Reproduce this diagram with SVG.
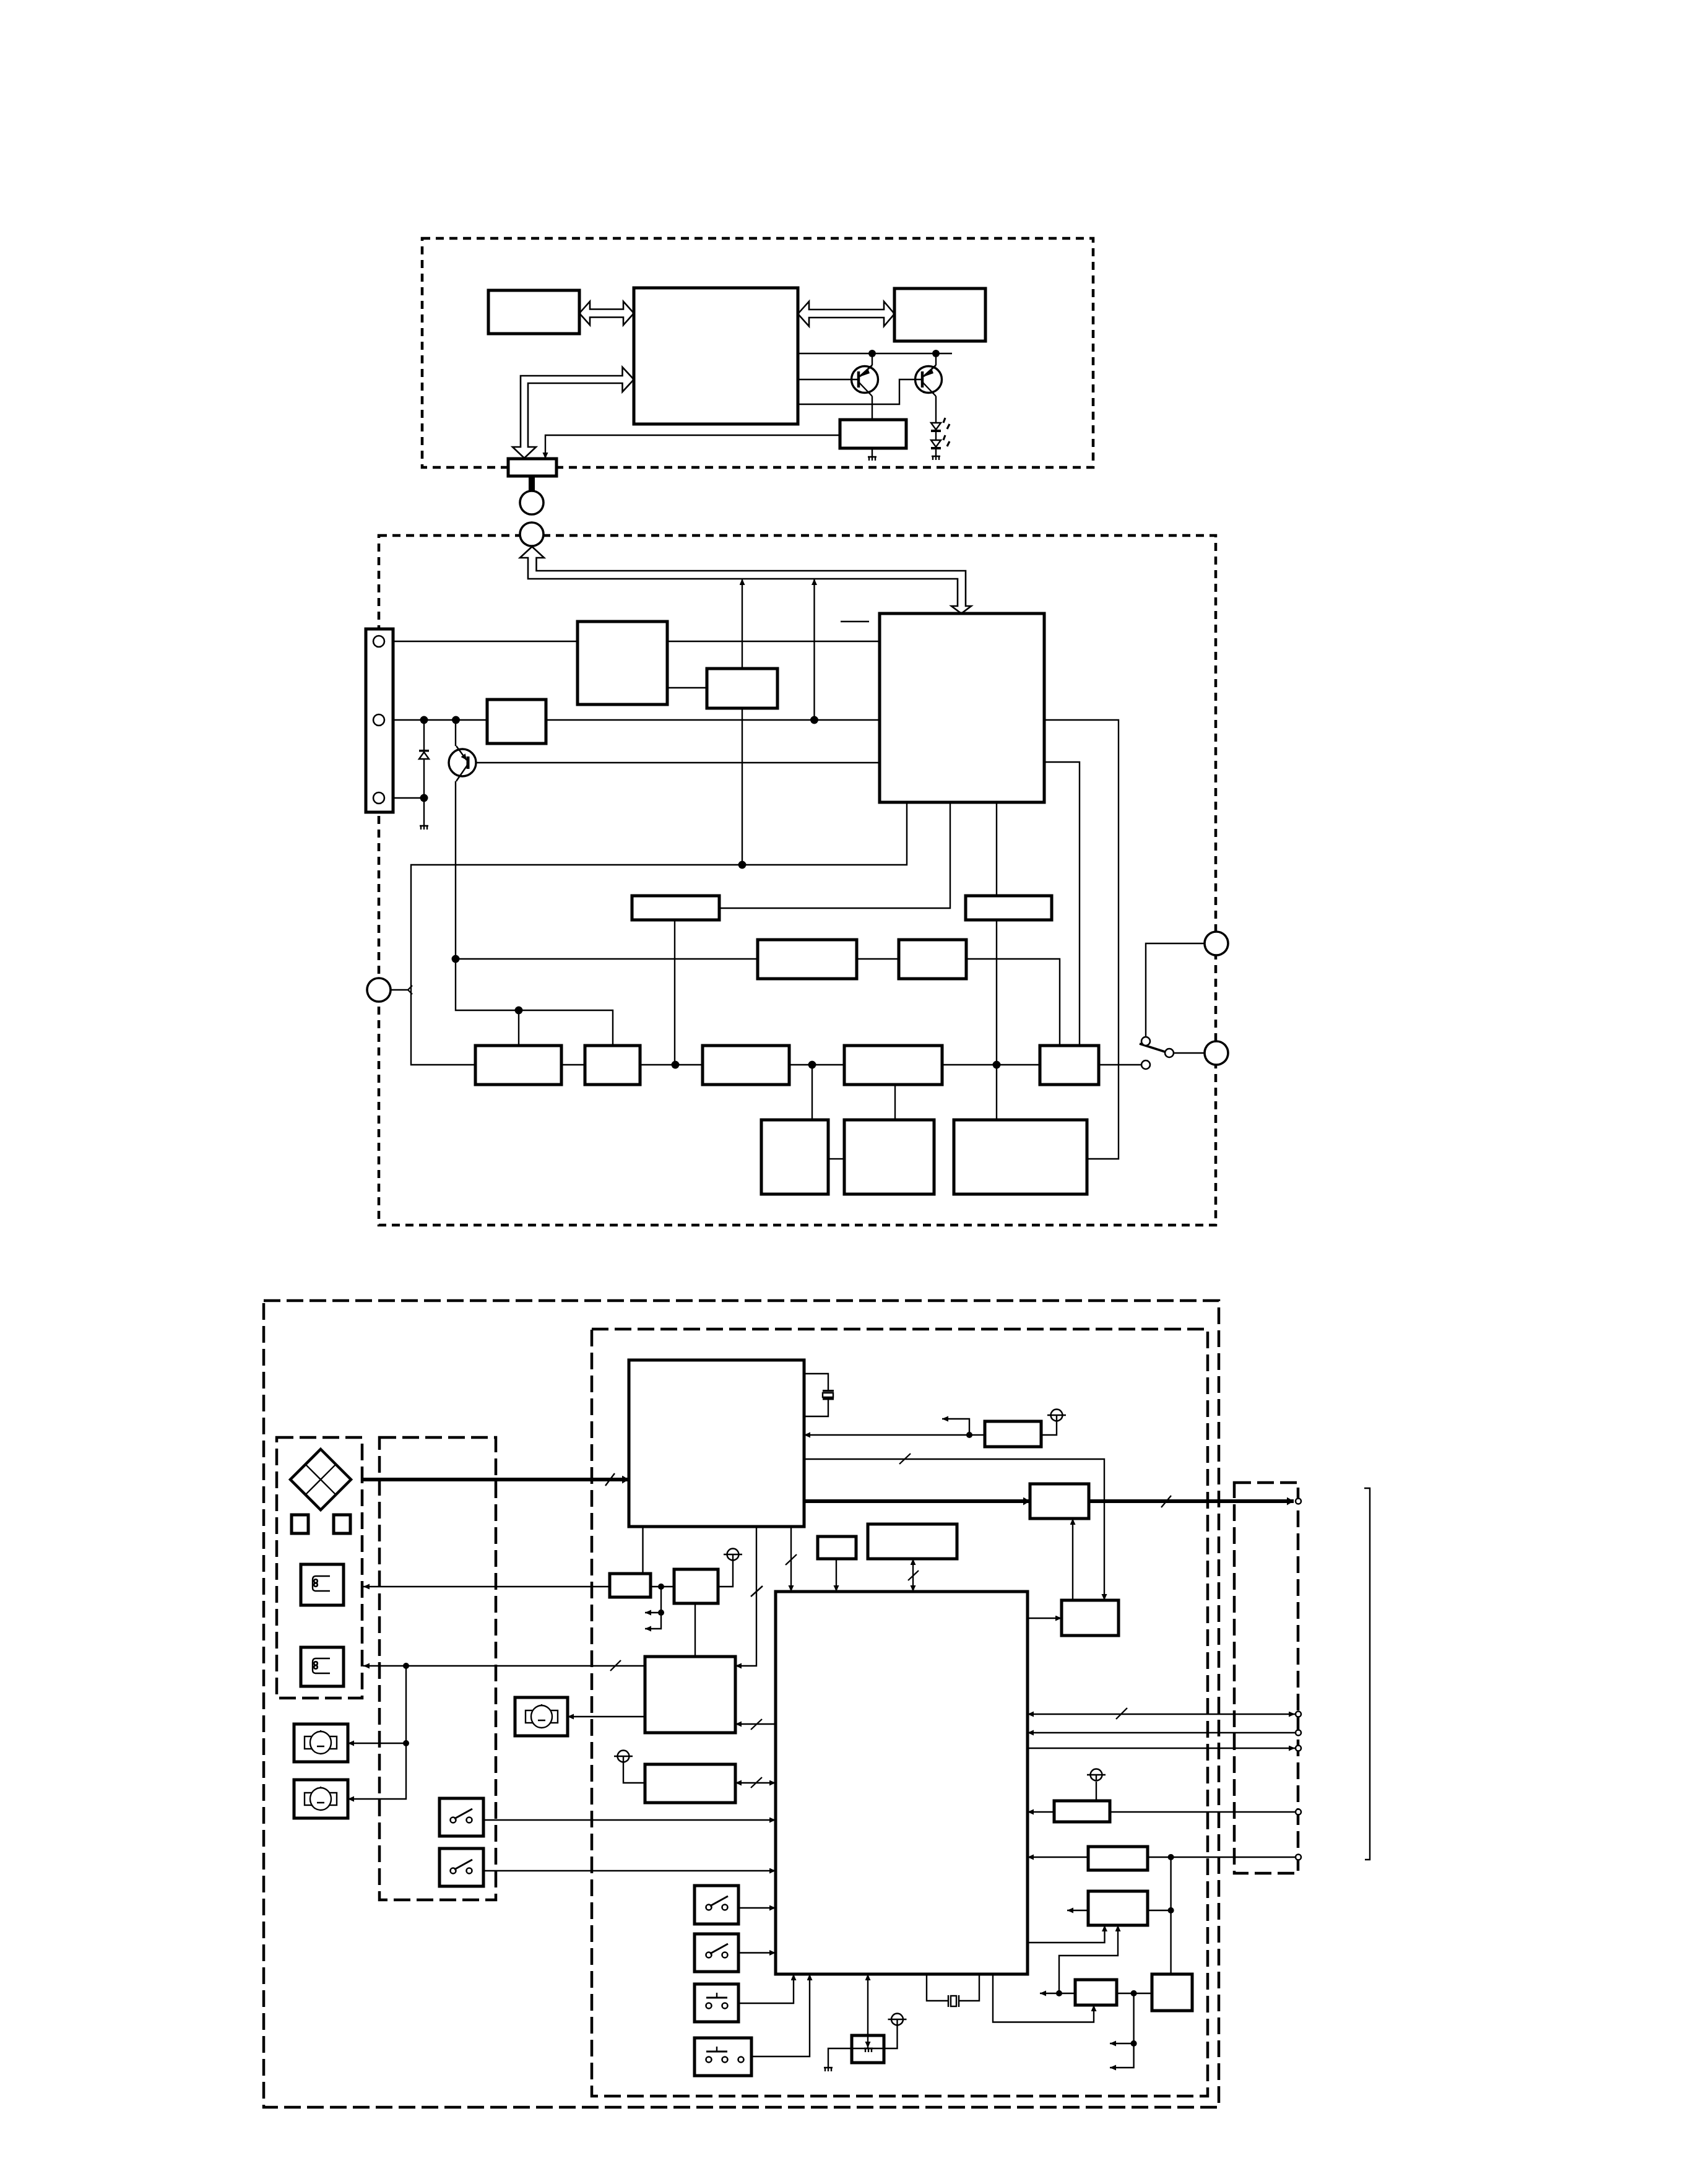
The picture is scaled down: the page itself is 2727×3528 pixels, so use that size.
<svg xmlns="http://www.w3.org/2000/svg" width="2727" height="3528" viewBox="0 0 2727 3528">
<style>
rect,circle,ellipse,path,line,polyline,polygon{stroke:#000}
.box{fill:#fff;stroke-width:5}
.dash1{fill:none;stroke-width:4.5;stroke-dasharray:13 9}
.dash2{fill:none;stroke-width:4.5;stroke-dasharray:27 10}
.c{fill:none;stroke-width:2.4}
.t{fill:none;stroke-width:6}
.bus{fill:#fff;stroke-width:2.6}
.dot{fill:#000;stroke:none}
.ring{fill:#fff;stroke-width:3.6}
.pin{fill:#fff;stroke-width:2.6}
.s{fill:none;stroke-width:2.4}
.sf{fill:#fff;stroke-width:2.4}
.a{marker-end:url(#a)}
.as{marker-start:url(#a)}
.b{marker-end:url(#b)}
</style>
<defs>
<marker id="a" markerUnits="userSpaceOnUse" markerWidth="11" markerHeight="10" refX="10" refY="4.5" orient="auto-start-reverse"><path d="M0,0L10,4.5L0,9z" style="fill:#000;stroke:none"/></marker>
<marker id="b" markerUnits="userSpaceOnUse" markerWidth="12" markerHeight="14" refX="11" refY="6.5" orient="auto-start-reverse"><path d="M0,0L11,6.5L0,13z" style="fill:#000;stroke:none"/></marker>
<g id="gnd"><path class="s" d="M-7,0H7M-5,0V6M0,0V6M5,0V6"/></g>
<g id="vcc"><ellipse class="sf" rx="9.5" ry="9.5"/><path class="s" d="M-15,0H15M0,0V10"/></g>
<g id="motor"><rect class="sf" x="-26" y="-10" width="52" height="20"/><ellipse class="sf" rx="17" ry="18"/><path class="s" d="M-6,6H6M0,-18V-20"/></g>
<g id="swo"><circle class="pin" cx="-13" cy="4" r="4.5"/><circle class="pin" cx="13" cy="4" r="4.5"/><path class="s" style="stroke-width:3" d="M-11,2L18,-14"/></g>
<g id="push"><circle class="pin" cx="-13" cy="4" r="4.5"/><circle class="pin" cx="13" cy="4" r="4.5"/><path class="s" d="M-17,-9H17" style="stroke-width:3"/><path class="s" d="M0,-9V-17"/></g>
<g id="coil"><path class="s" d="M13,-14H-10Q-15,-14 -15,-8V5Q-15,10 -10,10H13"/><circle class="pin" cx="-10" cy="-6" r="2.8"/><circle class="pin" cx="-10" cy="0" r="2.8"/></g>
<g id="led"><polygon class="sf" points="-8,0 8,0 0,11"/><rect x="-8" y="11" width="16" height="4" style="fill:#000;stroke:none"/><path class="s" style="stroke-width:3.2" d="M12,0L15,-8M18,10L22,2"/></g>
</defs>

<g id="containers">
<rect class="dash1" x="682" y="385" width="1084" height="370"/>
<rect class="dash1" x="612" y="865" width="1352" height="1114"/>
<rect class="dash2" x="426" y="2101" width="1543" height="1303"/>
<rect class="dash2" x="956" y="2147" width="995" height="1239"/>
<rect class="dash2" x="447" y="2322" width="138" height="421"/>
<rect class="dash2" x="613" y="2322" width="188" height="747"/>
<rect class="dash2" x="1994" y="2395" width="103" height="631"/>
</g>

<g id="connectors">
<polygon class="bus" points="936,506 953,487 953,499.5 1007,499.5 1007,487 1024,506 1007,525 1007,512.5 953,512.5 953,525"/>
<polygon class="bus" points="1289,507 1307,487 1307,500 1428,500 1428,487 1445,507 1428,527 1428,513 1307,513 1307,527"/>
<polygon class="bus" points="1024,613 1005.5,593 1005.5,607 841,607 841,722 828,722 847,740 866,722 853,722 853,619 1005.5,619 1005.5,633"/>
<path class="c" d="M1289,571H1538"/>
<path class="c" d="M1409,571V590M1409,640V678"/>
<path class="c" d="M1512,571V590M1512,640V683M1512,698V711M1512,726V737"/>
<path class="c" d="M1289,613H1387"/>
<path class="c" d="M1289,653H1453V613H1490"/>
<path class="c a" d="M1357,703H881V741"/>
<path class="c" d="M1409,724V738"/>
<path d="M859,769V793" style="fill:none;stroke-width:10"/>
<polygon class="bus" points="859.5,883 840,901 853,901 853,935 1547,935 1547,979 1537,979 1553,991 1569,979 1560,979 1560,922 866.5,922 866.5,901 879,901"/>
<path class="c a" d="M1199,1080V935"/>
<path class="c" d="M1199,1144V1397"/>
<path class="c a" d="M1315.5,1163V935"/>
<path class="c" d="M1358,1004H1404"/>
<path class="c" d="M622,1036H933M1078,1036H1421"/>
<path class="c" d="M622,1163H787M882,1163H1421"/>
<path class="c" d="M622,1289H685"/>
<path class="c" d="M685,1163V1334"/>
<path class="c" d="M1078,1111H1142"/>
<path class="c" d="M756,1232H1421"/>
<path class="c" d="M736,1163V1205M736,1262V1632H990V1689"/>
<path class="c" d="M838,1632V1689"/>
<path class="c" d="M736,1549H1224M1384,1549H1452M1561,1549H1712V1688"/>
<path class="c" d="M1465,1296V1397H664V1720H768"/>
<path class="c" d="M632,1599H659M659,1599L666,1592M659,1599L666,1606"/>
<path class="c" d="M1535,1296V1467H1162"/>
<path class="c" d="M1090,1486V1720"/>
<path class="c" d="M907,1720H945M1034,1720H1135M1275,1720H1364M1522,1720H1680"/>
<path class="c" d="M1312,1720V1809"/>
<path class="c" d="M1446,1752V1809"/>
<path class="c" d="M1338,1872H1364"/>
<path class="c" d="M1610,1296V1809"/>
<path class="c" d="M1775,1720H1844"/>
<path class="c" d="M1687,1163H1807V1872H1756"/>
<path class="c" d="M1687,1231H1744V1689"/>
<path class="c" d="M1851,1675V1524H1945"/>
<path class="c" d="M1896,1701H1945"/>
<path d="M1841,1686L1885,1700" style="fill:none;stroke-width:3.5"/>
<path class="t b" d="M585,2390H1016"/>
<path class="t b" d="M1299,2425H1664"/>
<path class="t b" d="M1759,2425H2090"/>
<path class="s" d="M978,2400L993,2380M1876,2435L1892,2416"/>
<path class="c" d="M1299,2219H1338V2245M1338,2261V2288H1299"/>
<path class="c a" d="M1566,2318H1299"/>
<path class="c" d="M1566,2318H1591"/>
<path class="c a" d="M1566,2318V2292H1522"/>
<path class="c" d="M1682,2318H1707V2296"/>
<path class="c a" d="M1299,2357H1784V2585"/>
<path class="s" d="M1453,2365L1471,2348"/>
<path class="c a" d="M1733,2585V2453"/>
<path class="c a" d="M1351,2518V2571"/>
<path class="c a as" d="M1475,2518V2571"/>
<path class="s" d="M1467,2553L1484,2537"/>
<path class="c a" d="M1660,2614H1715"/>
<path class="c" d="M1038.5,2466V2542"/>
<path class="c a" d="M985,2563H587"/>
<path class="c" d="M1051,2563H1089"/>
<path class="c a" d="M1068,2563V2605H1042"/>
<path class="c a" d="M1068,2605V2631H1042"/>
<path class="c" d="M1160,2563H1184V2521"/>
<path class="c" d="M1123,2590V2676"/>
<path class="c a" d="M1042,2691H587"/>
<path class="s" d="M986,2699L1003,2682"/>
<path class="c a" d="M1222,2466V2691H1188"/>
<path class="s" d="M1213,2579L1232,2562"/>
<path class="c a" d="M1278,2466V2571"/>
<path class="s" d="M1269,2528L1287,2511"/>
<path class="c a" d="M656,2691V2816H562"/>
<path class="c a" d="M656,2816V2906H562"/>
<path class="c a" d="M1042,2773H917"/>
<path class="c a" d="M1253,2785H1188"/>
<path class="s" d="M1213,2794L1231,2777"/>
<path class="c a as" d="M1188,2880H1253"/>
<path class="s" d="M1213,2888L1231,2871"/>
<path class="c" d="M1007,2847V2880H1042"/>
<path class="c a" d="M781,2940H1253"/>
<path class="c a" d="M781,3022H1253"/>
<path class="c a" d="M1193,3082H1253"/>
<path class="c a" d="M1193,3154.5H1253"/>
<path class="c a" d="M1193,3236H1282V3189"/>
<path class="c a" d="M1213.6,3322H1308V3189"/>
<path class="c a as" d="M1402,3189V3308"/>
<path class="c" d="M1338,3340V3309H1449.5V3272"/>
<path class="c" d="M1497,3189V3232H1532M1549,3232H1582V3189"/>
<path class="c a" d="M1604,3189V3266.5H1767V3239"/>
<path class="c a" d="M1737,3220H1680"/>
<path class="c a" d="M1711,3220V3159H1806V3110"/>
<path class="c a" d="M1660,3138H1784.5V3110"/>
<path class="c a" d="M1758,3086H1724"/>
<path class="c" d="M1854,3086H1891.6"/>
<path class="c" d="M1891.6,3000V3188"/>
<path class="c a" d="M1758,3000H1660"/>
<path class="c" d="M1854,3000H2092"/>
<path class="c a" d="M1703,2927H1660"/>
<path class="c" d="M1793,2927H2092"/>
<path class="c" d="M1771,2909V2878"/>
<path class="c a as" d="M1660,2769H2092"/>
<path class="s" d="M1803,2777L1821,2759"/>
<path class="c as" d="M1660,2799H2092"/>
<path class="c a" d="M1660,2824H2092"/>
<path class="c" d="M1804,3220H1861"/>
<path class="c a" d="M1831.6,3220V3301H1793"/>
<path class="c a" d="M1831.6,3301V3340H1793"/>
<path class="c" d="M2204,2404H2213V3004H2205"/>
</g>

<g id="upper-nodes">
<g id="n1"><rect class="box" x="789" y="469" width="147" height="70"/></g>
<g id="n2"><rect class="box" x="1024" y="465" width="265" height="220"/></g>
<g id="n3"><rect class="box" x="1445" y="466" width="147" height="85"/></g>
<g id="n4"><rect class="box" x="1357" y="678" width="107" height="46"/></g>
<g id="conn1"><rect class="box" x="821" y="741" width="78" height="28"/></g>
<g id="plug1"><circle class="ring" cx="859" cy="812" r="19"/></g>
<g id="plug2"><circle class="ring" cx="859" cy="863" r="19"/></g>
<g id="q1"><circle cx="1397" cy="613" r="21.5" fill="none" stroke-width="3.4"/><path class="s" d="M1387,600V626" style="stroke-width:4.5"/><path class="s" d="M1389,608L1409,590" style="stroke-width:3"/><polygon points="1388,609 1402,595 1405,603" style="fill:#000;stroke:none"/><path class="s" d="M1387,617L1409,640"/></g>
<g id="q2"><circle cx="1500" cy="613" r="21.5" fill="none" stroke-width="3.4"/><path class="s" d="M1490,600V626" style="stroke-width:4.5"/><path class="s" d="M1492,608L1512,590" style="stroke-width:3"/><polygon points="1491,609 1505,595 1508,603" style="fill:#000;stroke:none"/><path class="s" d="M1490,617L1512,640"/></g>
<g id="led1"><use href="#led" x="1512" y="683"/></g>
<g id="led2"><use href="#led" x="1512" y="711"/></g>
<use href="#gnd" x="1409" y="738"/>
<use href="#gnd" x="1512" y="737"/>
<circle class="dot" cx="1409" cy="571" r="6"/>
<circle class="dot" cx="1512" cy="571" r="6"/>
</g>

<g id="middle-nodes">
<g id="terminal"><rect class="box" x="591" y="1016" width="44" height="296"/><circle class="pin" cx="612" cy="1036" r="9"/><circle class="pin" cx="612" cy="1163" r="9"/><circle class="pin" cx="612" cy="1289" r="9"/></g>
<g id="m1"><rect class="box" x="933" y="1004" width="145" height="134"/></g>
<g id="m2"><rect class="box" x="1142" y="1080" width="114" height="64"/></g>
<g id="m3"><rect class="box" x="787" y="1130" width="95" height="71"/></g>
<g id="m4"><rect class="box" x="1421" y="991" width="266" height="305"/></g>
<g id="m5"><rect class="box" x="1021" y="1447" width="141" height="39"/></g>
<g id="m6"><rect class="box" x="1560" y="1447" width="139" height="39"/></g>
<g id="m7"><rect class="box" x="1224" y="1518" width="160" height="63"/></g>
<g id="m8"><rect class="box" x="1452" y="1518" width="109" height="63"/></g>
<g id="m9"><rect class="box" x="768" y="1689" width="139" height="63"/></g>
<g id="m10"><rect class="box" x="945" y="1689" width="89" height="63"/></g>
<g id="m11"><rect class="box" x="1135" y="1689" width="140" height="63"/></g>
<g id="m12"><rect class="box" x="1364" y="1689" width="158" height="63"/></g>
<g id="m13"><rect class="box" x="1680" y="1689" width="95" height="63"/></g>
<g id="m14"><rect class="box" x="1230" y="1809" width="108" height="120"/></g>
<g id="m15"><rect class="box" x="1364" y="1809" width="145" height="120"/></g>
<g id="m16"><rect class="box" x="1541" y="1809" width="215" height="120"/></g>
<g id="zener"><rect x="677" y="1211" width="16" height="3.5" style="fill:#000;stroke:none"/><polygon class="sf" points="685,1215 677,1226 693,1226"/></g>
<use href="#gnd" x="685" y="1334"/>
<g id="q3"><circle cx="747" cy="1232" r="22" fill="#fff" stroke-width="3.4"/><path class="s" d="M756,1222V1242" style="stroke-width:5"/><path class="s a" d="M737,1205L754,1228"/><path class="s" d="M755,1236L737,1262"/></g>
<circle class="ring" cx="612" cy="1599" r="19"/>
<circle class="ring" cx="1965" cy="1524" r="19"/>
<circle class="ring" cx="1965" cy="1701" r="19"/>
<circle class="pin" cx="1851" cy="1720" r="7"/>
<circle class="pin" cx="1851" cy="1682" r="7"/>
<circle class="pin" cx="1889" cy="1701" r="7"/>
<circle class="dot" cx="685" cy="1163" r="6.5"/><circle class="dot" cx="736.5" cy="1163" r="6.5"/><circle class="dot" cx="1315.5" cy="1163" r="6.5"/>
<circle class="dot" cx="685" cy="1289" r="6.5"/><circle class="dot" cx="1199" cy="1397" r="6.5"/>
<circle class="dot" cx="736" cy="1549" r="6.5"/><circle class="dot" cx="838" cy="1632" r="6.5"/>
<circle class="dot" cx="1091" cy="1720" r="6.5"/><circle class="dot" cx="1312" cy="1720" r="6.5"/><circle class="dot" cx="1610" cy="1720" r="6.5"/>
</g>

<g id="lower-nodes">
<g id="l1"><rect class="box" x="1016" y="2197" width="283" height="269"/></g>
<g id="xtal1"><rect x="1329" y="2245" width="18" height="3.5" style="fill:#000;stroke:none"/><rect x="1329" y="2258" width="18" height="3.5" style="fill:#000;stroke:none"/><rect class="sf" x="1329" y="2250" width="17" height="7"/></g>
<g id="l2"><rect class="box" x="1591" y="2296" width="91" height="41"/></g>
<use href="#vcc" x="1707" y="2286"/>
<g id="l3"><rect class="box" x="1664" y="2397" width="95" height="56"/></g>
<g id="l4"><rect class="box" x="1321" y="2482" width="62" height="36"/></g>
<g id="l5"><rect class="box" x="1402" y="2462" width="144" height="56"/></g>
<g id="l6"><rect class="box" x="1253" y="2571" width="407" height="618"/></g>
<g id="l7"><rect class="box" x="1715" y="2585" width="92" height="57"/></g>
<g id="prism"><polygon points="518,2341 567,2390 518,2439 469,2390" fill="#fff" stroke-width="4.5"/><path class="s" d="M493.5,2365.5L542.5,2414.5M542.5,2365.5L493.5,2414.5"/></g>
<rect class="box" x="471" y="2447" width="27" height="30"/>
<rect class="box" x="539" y="2447" width="27" height="30"/>
<g id="c1"><rect class="box" x="486" y="2527" width="69" height="66"/><use href="#coil" x="520" y="2560"/></g>
<g id="c2"><rect class="box" x="486" y="2661" width="69" height="63"/><use href="#coil" x="520" y="2693"/></g>
<g id="l8"><rect class="box" x="985" y="2542" width="66" height="38"/></g>
<g id="l9"><rect class="box" x="1089" y="2535" width="71" height="55"/></g>
<use href="#vcc" x="1184" y="2511"/>
<g id="l10"><rect class="box" x="1042" y="2676" width="146" height="123"/></g>
<g id="l11"><rect class="box" x="1042" y="2850" width="146" height="62"/></g>
<use href="#vcc" x="1007" y="2837"/>
<g id="mot1"><rect class="box" x="475" y="2785" width="87" height="61"/><use href="#motor" x="518" y="2815"/></g>
<g id="mot2"><rect class="box" x="475" y="2875" width="87" height="62"/><use href="#motor" x="518" y="2906"/></g>
<g id="mot3"><rect class="box" x="832" y="2742" width="85" height="62"/><use href="#motor" x="875" y="2773"/></g>
<g id="sw1"><rect class="box" x="710" y="2905" width="71" height="61"/><use href="#swo" x="745" y="2936"/></g>
<g id="sw2"><rect class="box" x="710" y="2986" width="71" height="61"/><use href="#swo" x="745" y="3018"/></g>
<g id="sw3"><rect class="box" x="1122" y="3046" width="71" height="62"/><use href="#swo" x="1158" y="3077"/></g>
<g id="sw4"><rect class="box" x="1122" y="3124" width="71" height="61"/><use href="#swo" x="1158" y="3154"/></g>
<g id="sw5"><rect class="box" x="1122" y="3205" width="71" height="61"/><use href="#push" x="1158" y="3236"/></g>
<g id="sw6"><rect class="box" x="1122" y="3292" width="92" height="61"/><use href="#push" x="1158" y="3323"/><circle class="pin" cx="1197" cy="3327" r="4.5"/></g>
<g id="l12"><rect class="box" x="1376" y="3288" width="52" height="44" style="fill:none"/></g>
<use href="#gnd" x="1338" y="3340"/>
<use href="#gnd" x="1403" y="3309"/>
<use href="#vcc" x="1449.5" y="3262"/>
<g id="xtal2"><path d="M1532,3223V3242M1549,3223V3242" class="s" style="stroke-width:2.5"/><rect class="sf" x="1536" y="3224" width="9" height="17"/></g>
<g id="l13"><rect class="box" x="1737" y="3198" width="67" height="41"/></g>
<g id="l14"><rect class="box" x="1758" y="3055" width="96" height="55"/></g>
<g id="l15"><rect class="box" x="1861" y="3189" width="65" height="59"/></g>
<g id="l16"><rect class="box" x="1758" y="2983" width="96" height="38"/></g>
<g id="l17"><rect class="box" x="1703" y="2909" width="90" height="34"/></g>
<use href="#vcc" x="1771" y="2867"/>
<g id="dots">
<circle class="dot" cx="1566" cy="2318" r="5"/><circle class="dot" cx="1068" cy="2563" r="5"/><circle class="dot" cx="1068" cy="2605" r="5"/>
<circle class="dot" cx="656" cy="2691" r="5"/><circle class="dot" cx="656" cy="2816" r="5"/>
<circle class="dot" cx="1711" cy="3220" r="5"/><circle class="dot" cx="1831.6" cy="3220" r="5"/><circle class="dot" cx="1831.6" cy="3301" r="5"/>
<circle class="dot" cx="1891.6" cy="3000" r="5"/><circle class="dot" cx="1891.6" cy="3086" r="5"/>
</g>
<g id="pins">
<circle class="pin" cx="2097.5" cy="2425" r="4.5"/><circle class="pin" cx="2097.5" cy="2769" r="4.5"/><circle class="pin" cx="2097.5" cy="2799" r="4.5"/><circle class="pin" cx="2097.5" cy="2824" r="4.5"/><circle class="pin" cx="2097.5" cy="2927" r="4.5"/><circle class="pin" cx="2097.5" cy="3000" r="4.5"/>
</g>
</g>
</svg>
